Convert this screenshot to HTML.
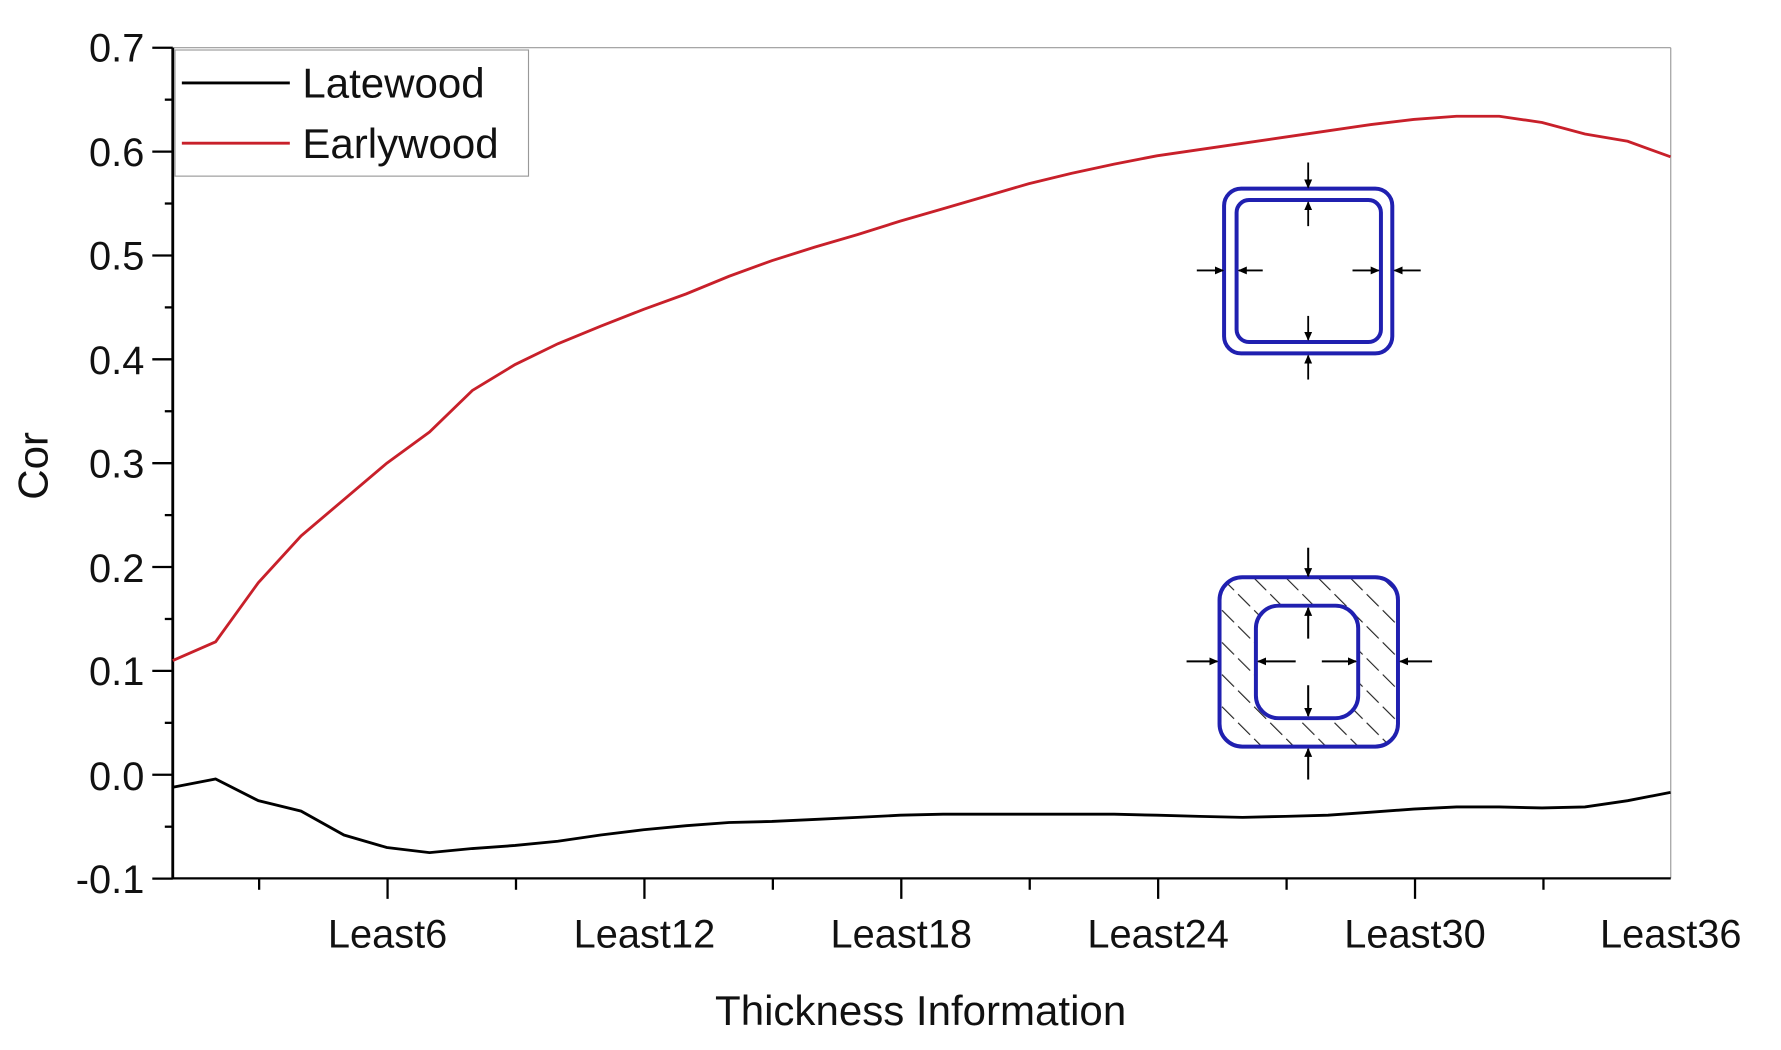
<!DOCTYPE html>
<html><head><meta charset="utf-8"><style>
html,body{margin:0;padding:0;background:#fff;}
svg{display:block;}
text{font-family:"Liberation Sans",Arial,sans-serif;fill:#111;}
</style></head><body>
<svg id="s" width="1781" height="1050" viewBox="0 0 1567 924" preserveAspectRatio="none" xmlns="http://www.w3.org/2000/svg">
<defs>
<marker id="ah" markerWidth="8" markerHeight="8" refX="7" refY="4" orient="auto" markerUnits="userSpaceOnUse"><path d="M0,0.5 L8,4 L0,7.5 Z" fill="#000"/></marker>
<pattern id="hatch" width="20" height="20" patternUnits="userSpaceOnUse" patternTransform="rotate(-45)"><line x1="0" y1="0" x2="0" y2="15" stroke="#222" stroke-width="2"/></pattern>
</defs>
<rect width="1567" height="924" fill="#fff"/>
<line x1="152" y1="42" x2="1470" y2="42" stroke="#999" stroke-width="1"/>
<line x1="1470" y1="42" x2="1470" y2="773" stroke="#999" stroke-width="1"/>
<line x1="152" y1="42" x2="152" y2="774" stroke="#000" stroke-width="2.5"/>
<line x1="151" y1="773" x2="1470" y2="773" stroke="#000" stroke-width="2"/>
<g id="yt" stroke="#000" stroke-width="2"></g>
<g id="xt" stroke="#000" stroke-width="2"></g>
<g font-size="35" text-anchor="end">
<text x="127" y="54">0.7</text><text x="127" y="146">0.6</text><text x="127" y="237">0.5</text><text x="127" y="329">0.4</text>
<text x="127" y="420">0.3</text><text x="127" y="512">0.2</text><text x="127" y="603">0.1</text><text x="127" y="695">0.0</text>
<text x="127" y="786">-0.1</text>
</g>
<g font-size="35" text-anchor="middle">
<text x="341" y="834">Least6</text><text x="567" y="834">Least12</text><text x="793" y="834">Least18</text>
<text x="1019" y="834">Least24</text><text x="1245" y="834">Least30</text><text x="1470" y="834">Least36</text>
</g>
<text x="810" y="902" font-size="37" text-anchor="middle">Thickness Information</text>
<text transform="translate(42,410) rotate(-90)" font-size="37" text-anchor="middle">Cor</text>
<path id="late" fill="none" stroke="#000" stroke-width="2.5"/>
<path id="early" fill="none" stroke="#c8202a" stroke-width="2.5"/>
<rect x="154" y="44" width="311" height="111" fill="#fff" stroke="#999" stroke-width="1"/>
<line x1="160" y1="73" x2="255" y2="73" stroke="#000" stroke-width="2.5"/>
<line x1="160" y1="126" x2="255" y2="126" stroke="#c8202a" stroke-width="2.5"/>
<text x="266" y="86" font-size="37">Latewood</text>
<text x="266" y="139" font-size="37">Earlywood</text>
<rect x="1077" y="166" width="148" height="145" rx="15" fill="#fff" stroke="#2020b0" stroke-width="3.5"/>
<rect x="1088" y="176" width="127" height="125" rx="11" fill="#fff" stroke="#2020b0" stroke-width="3.5"/>
<g stroke="#000" stroke-width="1.6" marker-end="url(#ah)">
<line x1="1151" y1="143" x2="1151" y2="165"/><line x1="1151" y1="199" x2="1151" y2="178"/>
<line x1="1151" y1="278" x2="1151" y2="299"/><line x1="1151" y1="334" x2="1151" y2="313"/>
<line x1="1053" y1="238" x2="1076" y2="238"/><line x1="1111" y1="238" x2="1090" y2="238"/>
<line x1="1190" y1="238" x2="1213" y2="238"/><line x1="1250" y1="238" x2="1227" y2="238"/>
</g>
<rect x="1073" y="508" width="157" height="149" rx="20" fill="url(#hatch)" stroke="#2020b0" stroke-width="3.5"/>
<rect x="1105" y="533" width="90" height="99" rx="20" fill="#fff" stroke="#2020b0" stroke-width="3.5"/>
<g stroke="#000" stroke-width="1.8" marker-end="url(#ah)">
<line x1="1151" y1="482" x2="1151" y2="507"/><line x1="1151" y1="562" x2="1151" y2="535"/>
<line x1="1151" y1="603" x2="1151" y2="630"/><line x1="1151" y1="686" x2="1151" y2="659"/>
<line x1="1044" y1="582" x2="1071" y2="582"/><line x1="1140" y1="582" x2="1107" y2="582"/>
<line x1="1163" y1="582" x2="1193" y2="582"/><line x1="1260" y1="582" x2="1232" y2="582"/>
</g>
</svg>
<script>
var ns="http://www.w3.org/2000/svg";
function Y(v){return 42+(0.7-v)*914;}
function X(i){return 152+(i-1)*37.65;}
var E=[0.11,0.128,0.185,0.23,0.265,0.3,0.33,0.37,0.395,0.415,0.432,0.448,0.463,0.48,0.495,0.508,0.52,0.533,0.545,0.557,0.569,0.579,0.588,0.596,0.602,0.608,0.614,0.62,0.626,0.631,0.634,0.634,0.628,0.617,0.61,0.595];
var L=[-0.012,-0.004,-0.025,-0.035,-0.058,-0.07,-0.075,-0.071,-0.068,-0.064,-0.058,-0.053,-0.049,-0.046,-0.045,-0.043,-0.041,-0.039,-0.038,-0.038,-0.038,-0.038,-0.038,-0.039,-0.04,-0.041,-0.04,-0.039,-0.036,-0.033,-0.031,-0.031,-0.032,-0.031,-0.025,-0.017];
function P(a){return a.map(function(v,i){return (i?"L":"M")+X(i+1).toFixed(1)+","+Y(v).toFixed(1);}).join(" ");}
document.getElementById("early").setAttribute("d",P(E));
document.getElementById("late").setAttribute("d",P(L));
var yt=document.getElementById("yt");
for(var k=0;k<=16;k++){var v=0.7-k*0.05;var l=document.createElementNS(ns,"line");var y=Y(v);
l.setAttribute("x1",k%2?145:134);l.setAttribute("x2",152);l.setAttribute("y1",y);l.setAttribute("y2",y);yt.appendChild(l);}
var xt=document.getElementById("xt");
for(var k=0;k<11;k++){var x=228+k*113;var l=document.createElementNS(ns,"line");
l.setAttribute("x1",x);l.setAttribute("x2",x);l.setAttribute("y1",773);l.setAttribute("y2",k%2?791:783);xt.appendChild(l);}
</script>
</body></html>
